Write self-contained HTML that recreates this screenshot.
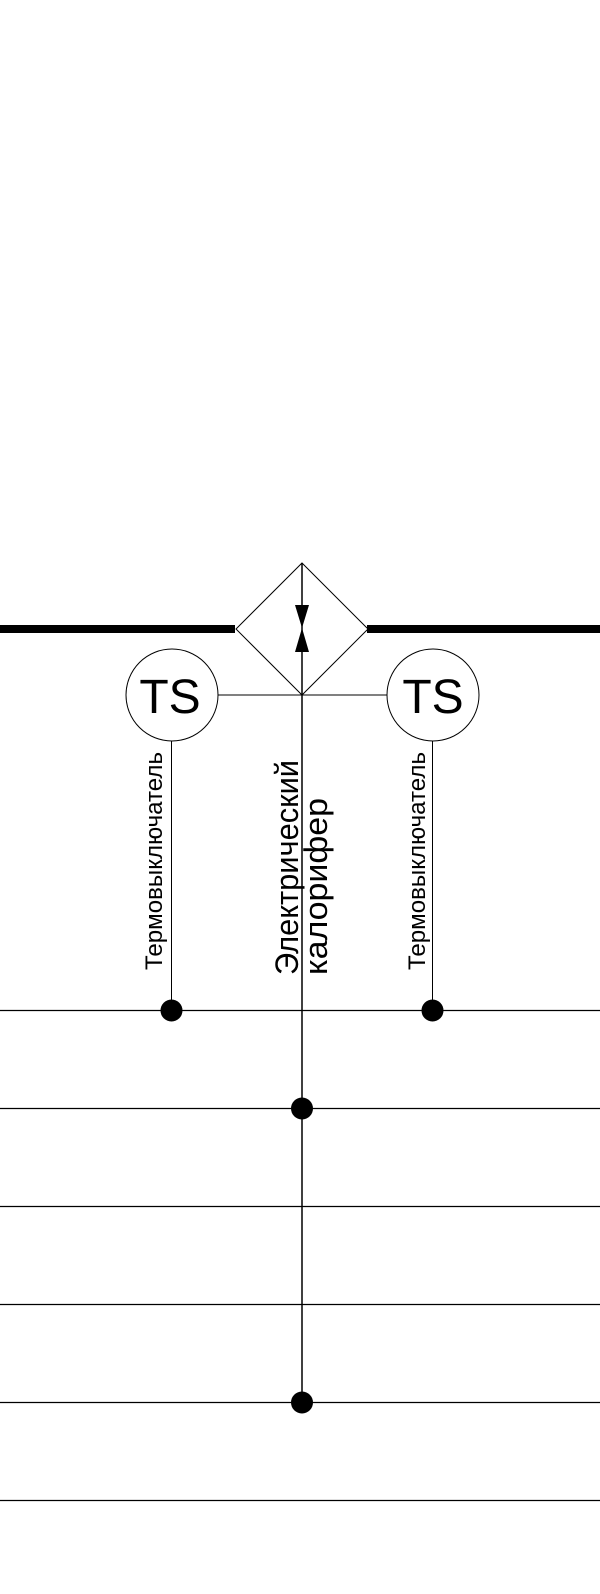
<!DOCTYPE html>
<html><head><meta charset="utf-8"><style>html,body{margin:0;padding:0;background:#fff}svg{display:block}</style></head>
<body>
<svg width="600" height="1594" viewBox="0 0 600 1594" xmlns="http://www.w3.org/2000/svg" font-family="Liberation Sans, Arial, sans-serif">
<g stroke="#000" fill="none">
<line x1="0" y1="629" x2="235" y2="629" stroke-width="8"/>
<line x1="367" y1="629" x2="600" y2="629" stroke-width="8"/>
<polygon points="302,563 368,629 302,695 236,629" stroke-width="1"/>
<line x1="302" y1="563" x2="302" y2="1402" stroke-width="1.5"/>
<line x1="218" y1="695" x2="387" y2="695" stroke-width="1"/>
<circle cx="172" cy="695" r="46" stroke-width="1"/>
<circle cx="433" cy="695" r="46" stroke-width="1"/>
<line x1="171.5" y1="741" x2="171.5" y2="1010" stroke-width="1"/>
<line x1="432.5" y1="741" x2="432.5" y2="1010" stroke-width="1"/>
<g stroke-width="1.2">
<line x1="0" y1="1010.5" x2="600" y2="1010.5"/>
<line x1="0" y1="1108.5" x2="600" y2="1108.5"/>
<line x1="0" y1="1206.5" x2="600" y2="1206.5"/>
<line x1="0" y1="1304.5" x2="600" y2="1304.5"/>
<line x1="0" y1="1402.5" x2="600" y2="1402.5"/>
<line x1="0" y1="1500.5" x2="600" y2="1500.5"/>
</g>
</g>
<g fill="#000">
<polygon points="295,605 309,605 302,628"/>
<polygon points="295,652 309,652 302,628"/>
<circle cx="171.5" cy="1010.5" r="11"/>
<circle cx="432.5" cy="1010.5" r="11"/>
<circle cx="302" cy="1108.5" r="11"/>
<circle cx="302" cy="1402.5" r="11"/>
<text x="170" y="713" font-size="48" text-anchor="middle">TS</text>
<text x="433" y="713" font-size="48" text-anchor="middle">TS</text>
<text transform="translate(162,970) rotate(-90)" font-size="24" textLength="218" lengthAdjust="spacingAndGlyphs">Термовыключатель</text>
<text transform="translate(425,970) rotate(-90)" font-size="24" textLength="218" lengthAdjust="spacingAndGlyphs">Термовыключатель</text>
<text transform="translate(298,975) rotate(-90)" font-size="32" textLength="215" lengthAdjust="spacingAndGlyphs">Электрический</text>
<text transform="translate(327,975) rotate(-90)" font-size="32" textLength="177" lengthAdjust="spacingAndGlyphs">калорифер</text>
</g>
</svg>
</body></html>
